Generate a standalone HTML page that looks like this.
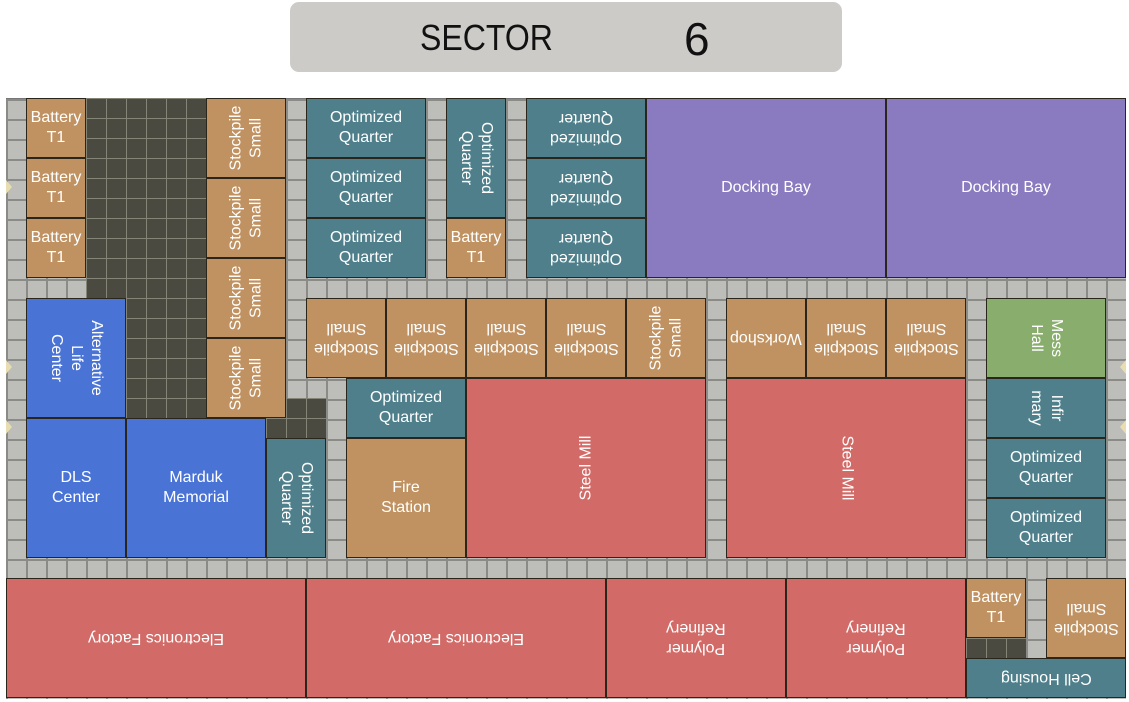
<!DOCTYPE html>
<html><head><meta charset="utf-8"><style>
body{margin:0;width:1129px;height:702px;background:#fff;position:relative;overflow:hidden;font-family:"Liberation Sans",sans-serif}
.hdr{position:absolute;left:290px;top:2px;width:552px;height:70px;background:#cdcbc8;border-radius:9px}
.hdr .s{position:absolute;left:130px;top:15px;font-size:36px;color:#111;transform:scaleX(0.89);transform-origin:left}
.hdr .n{position:absolute;left:394px;top:10px;font-size:46px;color:#111}
.grid{position:absolute;left:6px;top:98px;width:1120px;height:600px;background-color:#bdbdb9;
background-image:linear-gradient(90deg,#8a8a86 2px,transparent 2px),linear-gradient(#8a8a86 2px,transparent 2px);background-size:20px 20px;border-top:1px solid #777}
.dk{position:absolute;background-color:#4a4a40;background-image:linear-gradient(90deg,#858577 1px,transparent 1px),linear-gradient(#858577 1px,transparent 1px);background-size:20px 20px}
.b{position:absolute;box-sizing:border-box;border:1px solid #2b261c;display:flex;align-items:center;justify-content:center;color:#fff;font-size:16px;line-height:20px;text-align:center}
.b span{display:block;white-space:nowrap}
.t{background:#c09261}.q{background:#4e7f8b}.p{background:#8a7abf}.r{background:#d26b67}.u{background:#4a73d6}.g{background:#88ad6c}
.m span{transform:rotate(-90deg)}.c span{transform:rotate(90deg)}.f span{transform:rotate(180deg)}
.tri{position:absolute;width:0;height:0;border-top:7px solid transparent;border-bottom:7px solid transparent}
.tl{border-left:6px solid #e8ddb0;left:6px}.tr{border-right:6px solid #e8ddb0;left:1120px}
</style></head><body>
<div class="hdr"><div class="s">SECTOR</div><div class="n">6</div></div>
<div class="grid"></div>
<div class="dk" style="left:86px;top:98px;width:120px;height:320px"></div>
<div class="dk" style="left:266px;top:398px;width:60px;height:40px"></div>
<div class="dk" style="left:966px;top:638px;width:60px;height:20px"></div>

<div class="b t" style="left:26px;top:98px;width:60px;height:60px"><span>Battery<br>T1</span></div>
<div class="b t" style="left:26px;top:158px;width:60px;height:60px"><span>Battery<br>T1</span></div>
<div class="b t" style="left:26px;top:218px;width:60px;height:60px"><span>Battery<br>T1</span></div>

<div class="b t m" style="left:206px;top:98px;width:80px;height:80px"><span>Stockpile<br>Small</span></div>
<div class="b t m" style="left:206px;top:178px;width:80px;height:80px"><span>Stockpile<br>Small</span></div>
<div class="b t m" style="left:206px;top:258px;width:80px;height:80px"><span>Stockpile<br>Small</span></div>
<div class="b t m" style="left:206px;top:338px;width:80px;height:80px"><span>Stockpile<br>Small</span></div>

<div class="b q" style="left:306px;top:98px;width:120px;height:60px"><span>Optimized<br>Quarter</span></div>
<div class="b q" style="left:306px;top:158px;width:120px;height:60px"><span>Optimized<br>Quarter</span></div>
<div class="b q" style="left:306px;top:218px;width:120px;height:60px"><span>Optimized<br>Quarter</span></div>

<div class="b q c" style="left:446px;top:98px;width:60px;height:120px"><span>Optimized<br>Quarter</span></div>
<div class="b t" style="left:446px;top:218px;width:60px;height:60px"><span>Battery<br>T1</span></div>

<div class="b q f" style="left:526px;top:98px;width:120px;height:60px"><span>Optimized<br>Quarter</span></div>
<div class="b q f" style="left:526px;top:158px;width:120px;height:60px"><span>Optimized<br>Quarter</span></div>
<div class="b q f" style="left:526px;top:218px;width:120px;height:60px"><span>Optimized<br>Quarter</span></div>

<div class="b p" style="left:646px;top:98px;width:240px;height:180px"><span>Docking Bay</span></div>
<div class="b p" style="left:886px;top:98px;width:240px;height:180px"><span>Docking Bay</span></div>

<div class="b u c" style="left:26px;top:298px;width:100px;height:120px"><span>Alternative<br>Life<br>Center</span></div>
<div class="b u" style="left:26px;top:418px;width:100px;height:140px"><span>DLS<br>Center</span></div>
<div class="b u" style="left:126px;top:418px;width:140px;height:140px"><span>Marduk<br>Memorial</span></div>
<div class="b q c" style="left:266px;top:438px;width:60px;height:120px"><span>Optimized<br>Quarter</span></div>

<div class="b t f" style="left:306px;top:298px;width:80px;height:80px"><span>Stockpile<br>Small</span></div>
<div class="b t f" style="left:386px;top:298px;width:80px;height:80px"><span>Stockpile<br>Small</span></div>
<div class="b t f" style="left:466px;top:298px;width:80px;height:80px"><span>Stockpile<br>Small</span></div>
<div class="b t f" style="left:546px;top:298px;width:80px;height:80px"><span>Stockpile<br>Small</span></div>
<div class="b t m" style="left:626px;top:298px;width:80px;height:80px"><span>Stockpile<br>Small</span></div>
<div class="b t f" style="left:726px;top:298px;width:80px;height:80px"><span>Workshop</span></div>
<div class="b t f" style="left:806px;top:298px;width:80px;height:80px"><span>Stockpile<br>Small</span></div>
<div class="b t f" style="left:886px;top:298px;width:80px;height:80px"><span>Stockpile<br>Small</span></div>
<div class="b g c" style="left:986px;top:298px;width:120px;height:80px"><span>Mess<br>Hall</span></div>

<div class="b q" style="left:346px;top:378px;width:120px;height:60px"><span>Optimized<br>Quarter</span></div>
<div class="b t" style="left:346px;top:438px;width:120px;height:120px"><span>Fire<br>Station</span></div>
<div class="b r m" style="left:466px;top:378px;width:240px;height:180px"><span>Steel Mill</span></div>
<div class="b r c" style="left:726px;top:378px;width:240px;height:180px"><span>Steel Mill</span></div>
<div class="b q c" style="left:986px;top:378px;width:120px;height:60px"><span>Infir<br>mary</span></div>
<div class="b q" style="left:986px;top:438px;width:120px;height:60px"><span>Optimized<br>Quarter</span></div>
<div class="b q" style="left:986px;top:498px;width:120px;height:60px"><span>Optimized<br>Quarter</span></div>

<div class="b r f" style="left:6px;top:578px;width:300px;height:120px"><span>Electronics Factory</span></div>
<div class="b r f" style="left:306px;top:578px;width:300px;height:120px"><span>Electronics Factory</span></div>
<div class="b r f" style="left:606px;top:578px;width:180px;height:120px"><span>Polymer<br>Refinery</span></div>
<div class="b r f" style="left:786px;top:578px;width:180px;height:120px"><span>Polymer<br>Refinery</span></div>
<div class="b t" style="left:966px;top:578px;width:60px;height:60px"><span>Battery<br>T1</span></div>
<div class="b t f" style="left:1046px;top:578px;width:80px;height:80px"><span>Stockpile<br>Small</span></div>
<div class="b q f" style="left:966px;top:658px;width:160px;height:40px"><span>Cell Housing</span></div>

<div class="tri tl" style="top:180px"></div>
<div class="tri tl" style="top:360px"></div>
<div class="tri tl" style="top:420px"></div>
<div class="tri tr" style="top:360px"></div>
<div class="tri tr" style="top:420px"></div>
</body></html>
